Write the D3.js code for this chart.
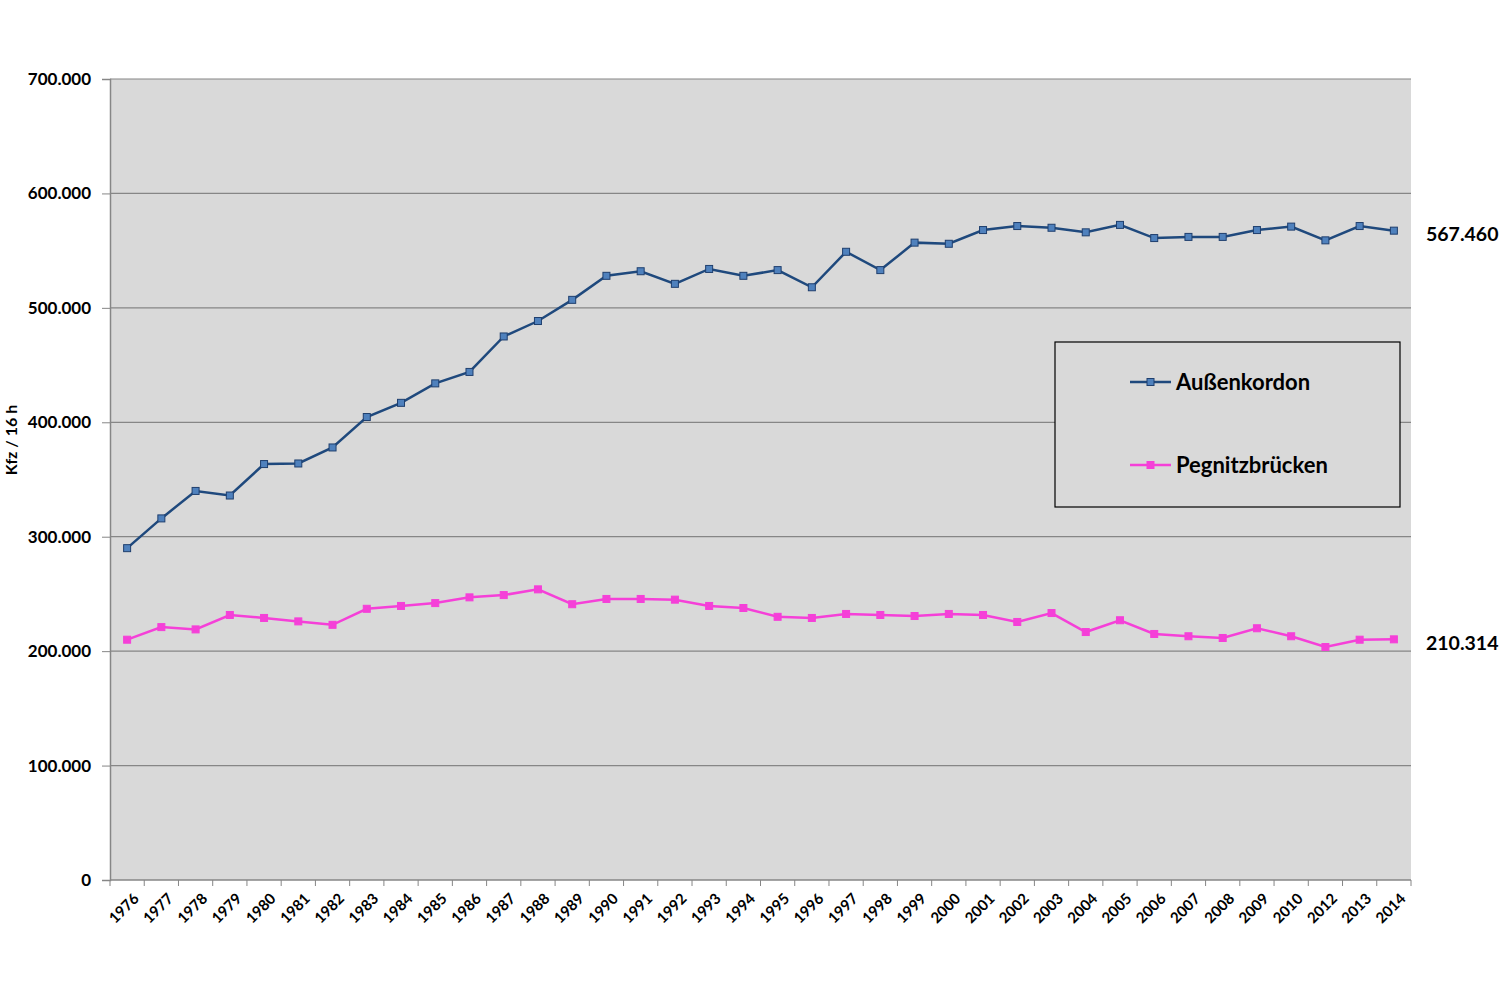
<!DOCTYPE html>
<html>
<head>
<meta charset="utf-8">
<script src="https://cdn.jsdelivr.net/npm/d3@7"></script>
<style>
  body { margin: 0; background: #fff; }
  text { font-family: Lato, "Open Sans", sans-serif; font-weight: bold; }
</style>
</head>
<body>
<div id="chart"></div>
<script>
const years = ['1976','1977','1978','1979','1980','1981','1982','1983','1984','1985','1986','1987','1988','1989',
  '1990','1991','1992','1993','1994','1995','1996','1997','1998','1999','2000','2001','2002','2003','2004','2005',
  '2006','2007','2008','2009','2010','2012','2013','2014']

const aussenkordon = [290000,316000,340000,336000,363500,364000,378000,404600,417000,434000,444000,475000,488500,507000,
  528000,532000,521000,534000,528000,533000,518000,549000,533000,557000,556000,568000,571500,570000,566000,572500,
  561000,562000,562000,568000,571000,559000,571500,567460]

const pegnitzbruecken = [210000,221000,219000,231600,229000,226000,223000,237000,239500,242000,247000,249000,254000,241000,
  245600,245600,245000,239500,237700,230000,229000,232500,231600,230700,232500,231600,225500,233300,216700,227000,
  215000,213000,211500,220000,213000,203600,210000,210314]

const yTicks = [0,100000,200000,300000,400000,500000,600000,700000]

const seriesNames = ['Außenkordon', 'Pegnitzbrücken']
const endLabels = ['567.460', '210.314']

const W = 1500, H = 1000
const margin = { top: 79, right: 89, bottom: 120, left: 110 }
const width = W - margin.left - margin.right
const height = H - margin.top - margin.bottom

const colors = {
  'Außenkordon': { line: '#1F497D', fill: '#4F81BD', stroke: '#1F3F6E' },
  'Pegnitzbrücken': { line: '#F540D8', fill: '#F540D8', stroke: '#F540D8' }
}

const svg = d3.select('#chart').append('svg').attr('width', W).attr('height', H)
const g = svg.append('g').attr('transform', `translate(${margin.left},${margin.top})`)

const x = d3.scaleBand().domain(years).range([0, width])
const y = d3.scaleLinear().domain([0, 700000]).range([height, 0])
const fmt = v => v === 0 ? '0' : d3.format(',')(v).replace(/,/g, '.')

g.append('rect').attr('width', width).attr('height', height).attr('fill', '#D9D9D9')

// gridlines
g.selectAll('.grid').data(yTicks.filter(d => d > 0)).enter().append('line')
  .attr('x1', 0).attr('x2', width)
  .attr('y1', d => y(d)).attr('y2', d => y(d))
  .attr('stroke', '#868686').attr('stroke-width', 1.2)

// y axis
const yAxis = g.append('g').call(d3.axisLeft(y).tickValues(yTicks).tickFormat(fmt).tickSize(8).tickPadding(11))
yAxis.select('.domain').attr('stroke', '#868686').attr('stroke-width', 1.5)
yAxis.selectAll('.tick line').attr('stroke', '#868686')
yAxis.selectAll('text').attr('font-size', 17).attr('fill', '#000')

// x axis, ticks on band boundaries
const xAxis = g.append('g').attr('transform', `translate(0,${height})`)
xAxis.append('line').attr('x1', 0).attr('x2', width).attr('stroke', '#868686').attr('stroke-width', 1.5)
xAxis.selectAll('.xt').data(years.concat(['end'])).enter().append('line')
  .attr('x1', (d, i) => i * x.step()).attr('x2', (d, i) => i * x.step())
  .attr('y1', 0).attr('y2', 6).attr('stroke', '#868686')
xAxis.selectAll('.xl').data(years).enter().append('text')
  .attr('transform', d => `translate(${x(d) + x.bandwidth() / 2 + 9},${16}) rotate(-45)`)
  .attr('text-anchor', 'end').attr('dy', '0.35em')
  .attr('font-size', 15).text(d => d)

// y axis title
svg.append('text')
  .attr('transform', `translate(17,${440}) rotate(-90)`)
  .attr('text-anchor', 'middle').attr('font-size', 16).text('Kfz / 16 h')

const line = d3.line().x((d, i) => x(years[i]) + x.bandwidth() / 2).y(d => y(d))

const series = [aussenkordon, pegnitzbruecken]
series.forEach((vals, si) => {
  const c = colors[seriesNames[si]]
  g.append('path').datum(vals).attr('d', line)
    .attr('fill', 'none').attr('stroke', c.line).attr('stroke-width', 2.5)
  g.selectAll('.m' + si).data(vals).enter().append('rect')
    .attr('x', (d, i) => x(years[i]) + x.bandwidth() / 2 - 3.5)
    .attr('y', d => y(d) - 3.5)
    .attr('width', 7).attr('height', 7)
    .attr('fill', c.fill).attr('stroke', c.stroke).attr('stroke-width', 1)
  g.append('text')
    .attr('x', width + 15).attr('y', y(vals[vals.length - 1]) + 4)
    .attr('dy', '0.35em').attr('font-size', 19.5).text(endLabels[si])
})

// legend
const legend = svg.append('g').attr('transform', 'translate(1055,342)')
legend.append('rect').attr('width', 345).attr('height', 165)
  .attr('fill', '#D9D9D9').attr('stroke', '#000').attr('stroke-width', 1.2)
seriesNames.forEach((name, i) => {
  const c = colors[name]
  const ly = 40 + i * 83
  legend.append('line').attr('x1', 75).attr('x2', 116).attr('y1', ly).attr('y2', ly)
    .attr('stroke', c.line).attr('stroke-width', 2.5)
  legend.append('rect').attr('x', 92).attr('y', ly - 3.5).attr('width', 7).attr('height', 7)
    .attr('fill', c.fill).attr('stroke', c.stroke)
  legend.append('text').attr('x', 121).attr('y', ly).attr('dy', '0.35em')
    .attr('font-size', 22).text(name)
})
</script>
</body>
</html>
